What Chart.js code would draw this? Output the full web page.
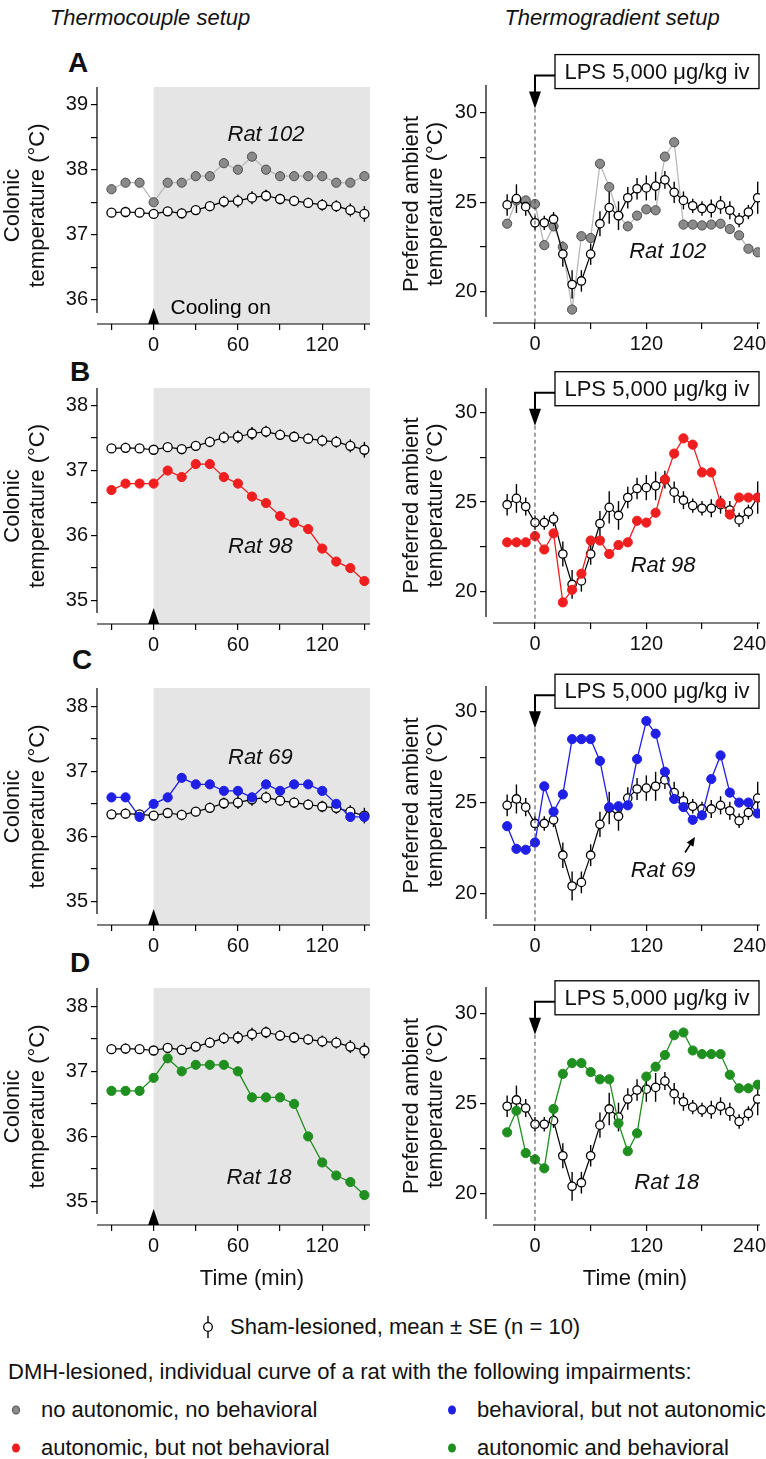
<!DOCTYPE html>
<html>
<head>
<meta charset="utf-8">
<title>Thermocouple and thermogradient setups</title>
<script src="https://cdn.jsdelivr.net/npm/chart.js"></script>
<style>
  html, body { margin: 0; padding: 0; background: #fff; }
  #fig { position: relative; width: 766px; height: 1459px; overflow: hidden;
         font-family: 'Liberation Sans', Arial, Helvetica, sans-serif; color: #111; }
  #fig canvas { position: absolute; }
  .t { position: absolute; white-space: nowrap; transform: translate(-50%, -50%); line-height: 1; }
  .l { position: absolute; white-space: nowrap; transform: translate(0, -50%); line-height: 1; }
  .hdr { font-size: 22px; font-style: italic; }
  .letter { font-size: 28px; font-weight: bold; }
  .lab { font-size: 22px; }
  .leg { font-size: 22px; }
  .dot { position: absolute; width: 8px; height: 9px; border-radius: 50%; transform: translate(-50%, -50%); box-sizing: border-box; }
</style>
</head>
<body>
<div id="fig">
  <div class="t hdr" style="left:150px; top:18px">Thermocouple setup</div>
  <div class="t hdr" style="left:612px; top:18px">Thermogradient setup</div>

  <div class="t letter" style="left:78px; top:63px">A</div>
  <div class="t letter" style="left:80px; top:372px">B</div>
  <div class="t letter" style="left:82px; top:660px">C</div>
  <div class="t letter" style="left:80px; top:963px">D</div>

  <canvas id="L0"></canvas><canvas id="L1"></canvas><canvas id="L2"></canvas><canvas id="L3"></canvas>
  <canvas id="R0"></canvas><canvas id="R1"></canvas><canvas id="R2"></canvas><canvas id="R3"></canvas>

  <div class="t lab" style="left:252px; top:1278px">Time (min)</div>
  <div class="t lab" style="left:635px; top:1278px">Time (min)</div>

  <svg style="position:absolute; left:198px; top:1315px" width="20" height="24">
    <line x1="10" y1="1" x2="10" y2="23" stroke="#000" stroke-width="1.4"/>
    <circle cx="10" cy="12" r="4.3" fill="#fff" stroke="#000" stroke-width="1.3"/>
  </svg>
  <div class="l leg" style="left:230px; top:1327px">Sham-lesioned, mean ± SE (n = 10)</div>
  <div class="l leg" style="left:8px; top:1372px">DMH-lesioned, individual curve of a rat with the following impairments:</div>

  <div class="dot" style="left:16px; top:1410px; background:#8a8a8a; border:1px solid #4d4d4d"></div>
  <div class="l leg" style="left:41px; top:1410px">no autonomic, no behavioral</div>
  <div class="dot" style="left:452px; top:1410px; background:#1f1fe6"></div>
  <div class="l leg" style="left:477px; top:1410px">behavioral, but not autonomic</div>
  <div class="dot" style="left:16px; top:1448px; background:#f01e1e"></div>
  <div class="l leg" style="left:41px; top:1448px">autonomic, but not behavioral</div>
  <div class="dot" style="left:452px; top:1448px; background:#1f8f1f"></div>
  <div class="l leg" style="left:477px; top:1448px">autonomic and behavioral</div>
</div>

<script>
// ---- data ----
const leftTimes = [-30, -20, -10, 0, 10, 20, 30, 40, 50, 60, 70, 80, 90, 100, 110, 120, 130, 140, 150];
const rightTimes = [-30, -20, -10, 0, 10, 20, 30, 40, 50, 60, 70, 80, 90, 100, 110, 120, 130, 140, 150,
                    160, 170, 180, 190, 200, 210, 220, 230, 240];

// sham-lesioned, mean and SE
const shamColonic = [37.34, 37.35, 37.34, 37.32, 37.36, 37.33, 37.38, 37.44, 37.51, 37.52, 37.57, 37.60,
                     37.55, 37.52, 37.49, 37.46, 37.44, 37.38, 37.32];
const shamColonicC = [36.34, 36.35, 36.34, 36.32, 36.36, 36.33, 36.38, 36.44, 36.51, 36.52, 36.57, 36.60,
                      36.55, 36.52, 36.49, 36.46, 36.44, 36.38, 36.32];
const shamColonicSE = [0.05, 0.08, 0.05, 0.07, 0.06, 0.08, 0.07, 0.08, 0.09, 0.10, 0.10, 0.09,
                       0.08, 0.08, 0.08, 0.09, 0.09, 0.10, 0.12];
const shamPreferred = [24.85, 25.2, 24.75, 23.85, 23.85, 24.05, 22.1, 20.4, 20.6, 22.1, 23.8, 24.7, 24.25, 25.25,
                       25.75, 25.8, 25.9, 26.25, 25.55, 25.1, 24.8, 24.65, 24.65, 24.85, 24.55, 24.0, 24.45, 25.25];
const shamPreferredSE = [0.6, 0.8, 0.5, 0.4, 0.4, 0.4, 0.7, 0.8, 0.6, 0.6, 0.7, 0.9, 0.8, 0.6,
                         0.6, 0.7, 0.8, 0.5, 0.6, 0.5, 0.4, 0.4, 0.5, 0.5, 0.5, 0.4, 0.4, 0.9];

// DMH-lesioned individual rats
const rat102Colonic = [37.7, 37.8, 37.8, 37.5, 37.8, 37.8, 37.9, 37.9, 38.1, 38.0, 38.2, 38.0, 37.9, 37.9,
                       37.9, 37.9, 37.8, 37.8, 37.9];
const rat98Colonic = [36.7, 36.8, 36.8, 36.8, 37.0, 36.9, 37.1, 37.1, 36.9, 36.8, 36.6, 36.5, 36.3, 36.2,
                      36.1, 35.8, 35.6, 35.5, 35.3];
const rat69Colonic = [36.6, 36.6, 36.3, 36.5, 36.6, 36.9, 36.8, 36.8, 36.7, 36.7, 36.6, 36.8, 36.7, 36.8,
                      36.8, 36.7, 36.5, 36.3, 36.3];
const rat18Colonic = [36.7, 36.7, 36.7, 36.9, 37.2, 37.0, 37.1, 37.1, 37.1, 37.0, 36.6, 36.6, 36.6, 36.5,
                      36.0, 35.6, 35.4, 35.3, 35.1];

const rat102Preferred = [23.8, 25.1, 25.1, 24.9, 22.6, 23.65, 22.5, 19.0, 23.1, 23.0, 27.15, 25.85, 24.25, 23.65,
                         24.25, 24.6, 24.55, 27.55, 28.35, 23.75, 23.75, 23.7, 23.75, 23.8, 23.5, 23.15, 22.4, 22.2];
const rat98Preferred = [22.75, 22.75, 22.75, 23.1, 22.35, 23.25, 19.4, 20.1, 21.0, 22.85, 22.85, 22.1, 22.6, 22.75,
                        23.95, 23.85, 24.4, 26.25, 27.7, 28.55, 28.2, 26.65, 26.65, 24.95, 24.3, 25.25, 25.25, 25.25];
const rat69Preferred = [23.7, 22.45, 22.4, 22.8, 25.9, 24.5, 25.45, 28.5, 28.5, 28.5, 27.3, 24.75, 24.8, 24.85,
                        27.4, 29.5, 28.8, 26.7, 25.2, 24.75, 24.05, 24.3, 26.3, 27.6, 25.55, 25.0, 25.0, 24.4];
const rat18Preferred = [23.4, 24.6, 22.25, 21.9, 21.4, 24.7, 26.65, 27.25, 27.25, 26.75, 26.35, 26.35, 23.9, 22.35,
                        23.35, 26.5, 27.05, 27.7, 28.8, 28.95, 27.95, 27.75, 27.75, 27.75, 26.6, 25.85, 25.85, 26.05];

const ratNames = ['Rat 102', 'Rat 98', 'Rat 69', 'Rat 18'];
const leftTickLabels = [0, 60, 120];
const rightTickLabels = [0, 120, 240];
const lpsText = 'LPS 5,000 \u03bcg/kg iv';

// ---- styles ----
const FONT = "'Liberation Sans', Arial, Helvetica, sans-serif";
Chart.defaults.font.family = FONT;
Chart.defaults.color = '#111';
Chart.defaults.animation = false;

const ratStyle = [
  { fill: '#8a8a8a', edge: '#4d4d4d', line: '#b8b8b8' },
  { fill: '#f01e1e', edge: '#f01e1e', line: '#f01e1e' },
  { fill: '#1f1fe6', edge: '#1f1fe6', line: '#1f1fe6' },
  { fill: '#1f8f1f', edge: '#1f8f1f', line: '#1f8f1f' }
];

function series(times, values) {
  return times.map((t, i) => ({ x: t, y: values[i] }));
}

// extra drawing: shaded cooling period, detached axis lines, SE bars, annotations, LPS arrows
const decor = {
  id: 'decor',
  beforeDraw(chart, args, o) {
    if (!o.shade) return;
    const { ctx, chartArea: a, scales: { x } } = chart;
    const x0 = x.getPixelForValue(0);
    ctx.save();
    ctx.fillStyle = '#e5e5e5';
    ctx.fillRect(x0, a.top, a.right - x0, a.bottom - a.top);
    ctx.restore();
  },
  beforeDatasetsDraw(chart, args, o) {
    const { ctx, chartArea: a, scales: { x, y } } = chart;
    ctx.save();
    ctx.strokeStyle = '#000';
    ctx.lineWidth = 1.2;
    ctx.beginPath();
    ctx.moveTo(a.left, a.top);
    ctx.lineTo(a.left, a.bottom - o.yGap);
    ctx.moveTo(a.left + o.xGap, a.bottom);
    ctx.lineTo(a.right, a.bottom);
    ctx.stroke();

    ctx.lineWidth = 1.4;
    o.times.forEach((t, i) => {
      const px = x.getPixelForValue(t);
      ctx.beginPath();
      ctx.moveTo(px, y.getPixelForValue(o.mean[i] - o.se[i]));
      ctx.lineTo(px, y.getPixelForValue(o.mean[i] + o.se[i]));
      ctx.stroke();
    });
    ctx.restore();
  },
  afterDatasetsDraw(chart, args, o) {
    const { ctx, chartArea: a, scales: { x, y } } = chart;
    ctx.save();
    ctx.fillStyle = '#111';
    ctx.font = 'italic 22px ' + FONT;
    ctx.textAlign = 'center';
    ctx.textBaseline = 'middle';
    ctx.fillText(o.label, x.getPixelForValue(o.labelAt[0]), y.getPixelForValue(o.labelAt[1]));

    const x0 = x.getPixelForValue(0);
    if (o.cooling) {
      ctx.fillStyle = '#000';
      ctx.beginPath();
      ctx.moveTo(x0 - 5.5, a.bottom);
      ctx.lineTo(x0 + 5.5, a.bottom);
      ctx.lineTo(x0, a.bottom - 16);
      ctx.closePath();
      ctx.fill();
      if (o.coolingText) {
        ctx.font = '21px ' + FONT;
        ctx.textAlign = 'left';
        ctx.fillText('Cooling on', x.getPixelForValue(12), y.getPixelForValue(35.88));
      }
    }

    if (o.lpsY !== undefined) {
      const cy = y.getPixelForValue(o.lpsY);
      const bh = 34, bl = x0 + 20, br = a.right - 1;
      const tip = cy + 37;
      ctx.strokeStyle = '#000';
      ctx.lineWidth = 1.3;
      ctx.fillStyle = '#fff';
      ctx.fillRect(bl, cy - bh / 2, br - bl, bh);
      ctx.strokeRect(bl, cy - bh / 2, br - bl, bh);
      ctx.fillStyle = '#111';
      ctx.font = '22px ' + FONT;
      ctx.textAlign = 'center';
      ctx.fillText(lpsText, (bl + br) / 2, cy + 1);
      // connector + arrow
      ctx.lineWidth = 2;
      ctx.beginPath();
      ctx.moveTo(bl, cy + 4);
      ctx.lineTo(x0, cy + 4);
      ctx.lineTo(x0, tip - 15);
      ctx.stroke();
      ctx.fillStyle = '#000';
      ctx.beginPath();
      ctx.moveTo(x0 - 6, tip - 17);
      ctx.lineTo(x0 + 6, tip - 17);
      ctx.lineTo(x0, tip);
      ctx.closePath();
      ctx.fill();
      // dashed injection line
      ctx.lineWidth = 1;
      ctx.strokeStyle = '#444';
      ctx.setLineDash([4, 3]);
      ctx.beginPath();
      ctx.moveTo(x0, tip);
      ctx.lineTo(x0, a.bottom);
      ctx.stroke();
      ctx.setLineDash([]);
    }

    if (o.pointer) {
      const [fx, fy, tx, ty] = o.pointer;
      const p1 = [x.getPixelForValue(fx), y.getPixelForValue(fy)];
      const p2 = [x.getPixelForValue(tx), y.getPixelForValue(ty)];
      const ang = Math.atan2(p2[1] - p1[1], p2[0] - p1[0]);
      ctx.strokeStyle = '#000';
      ctx.fillStyle = '#000';
      ctx.lineWidth = 1.6;
      ctx.beginPath();
      ctx.moveTo(p1[0], p1[1]);
      ctx.lineTo(p2[0] - 6 * Math.cos(ang), p2[1] - 6 * Math.sin(ang));
      ctx.stroke();
      ctx.beginPath();
      ctx.moveTo(p2[0], p2[1]);
      ctx.lineTo(p2[0] - 9 * Math.cos(ang) + 4 * Math.sin(ang), p2[1] - 9 * Math.sin(ang) - 4 * Math.cos(ang));
      ctx.lineTo(p2[0] - 9 * Math.cos(ang) - 4 * Math.sin(ang), p2[1] - 9 * Math.sin(ang) + 4 * Math.cos(ang));
      ctx.closePath();
      ctx.fill();
    }
    ctx.restore();
  }
};

function axisStyle() {
  return {
    grid: { drawOnChartArea: false, color: '#000', lineWidth: 1.2, tickLength: 6 },
    border: { display: false }
  };
}

function makePanel(id, p) {
  const cv = document.getElementById(id);
  const canvasTop = p.top - 50;
  const xh = 40;
  cv.width = p.canvasWidth;
  cv.height = Math.round(p.bottom + xh - canvasTop);
  cv.style.left = p.canvasLeft + 'px';
  cv.style.top = canvasTop + 'px';

  const rs = ratStyle[p.idx];
  const shamSet = {
    data: series(p.times, p.sham),
    borderColor: '#000', borderWidth: 1.2,
    pointBackgroundColor: '#fff', pointBorderColor: '#000', pointBorderWidth: 1.3,
    pointRadius: p.shamRadius, tension: 0,
    order: p.shamOnTop ? 0 : 1
  };
  const ratSet = {
    data: series(p.times, p.rat),
    borderColor: rs.line, borderWidth: 1.3,
    pointBackgroundColor: rs.fill, pointBorderColor: rs.edge, pointBorderWidth: 1,
    pointRadius: 4.6, tension: 0,
    order: p.shamOnTop ? 1 : 0
  };

  new Chart(cv, {
    type: 'line',
    data: { datasets: [shamSet, ratSet] },
    options: {
      responsive: false,
      layout: { padding: { top: 50, right: p.padRight, left: 0, bottom: 0 } },
      plugins: {
        legend: { display: false },
        tooltip: { enabled: false },
        decor: p.decor
      },
      scales: {
        x: Object.assign(axisStyle(), {
          type: 'linear', min: p.xMin, max: p.xMax,
          afterFit: (s) => { s.height = xh; s.paddingLeft = 0; s.paddingRight = 0; },
          ticks: {
            stepSize: p.xStep, includeBounds: false, autoSkip: false, maxRotation: 0, padding: 3,
            font: { size: 20 },
            callback: p.xLabel
          }
        }),
        y: Object.assign(axisStyle(), {
          type: 'linear', min: p.yMin, max: p.yMax,
          afterFit: (s) => { s.width = p.yWidth; s.paddingTop = 0; s.paddingBottom = 0; },
          title: {
            display: true, text: p.yTitle,
            font: { size: 22, lineHeight: 1.11 },
            padding: { top: p.titlePad, bottom: 0 }, color: '#111'
          },
          ticks: {
            stepSize: p.yStep, includeBounds: false, padding: 3,
            font: { size: 20 },
            callback: p.yLabel
          }
        })
      }
    },
    plugins: [decor]
  });
}

// ---- left column: colonic temperature ----
const leftRats = [rat102Colonic, rat98Colonic, rat69Colonic, rat18Colonic];
const leftShams = [shamColonic, shamColonic, shamColonicC, shamColonic];
const leftGeom = [
  { top: 86.7, bottom: 323.3, yMin: 35.63, yMax: 39.27 },
  { top: 388.3, bottom: 624.3, yMin: 34.64, yMax: 38.27 },
  { top: 688.3, bottom: 925, yMin: 34.64, yMax: 38.28 },
  { top: 988.3, bottom: 1225, yMin: 34.64, yMax: 38.28 }
];
const leftLabelAt = [[80, 38.53], [76, 35.83], [76, 37.21], [75, 35.37]];

leftGeom.forEach((g, i) => {
  makePanel('L' + i, {
    idx: i, top: g.top, bottom: g.bottom, yMin: g.yMin, yMax: g.yMax,
    canvasLeft: 0, canvasWidth: 380, padRight: 10, yWidth: 97, titlePad: 1,
    times: leftTimes, sham: leftShams[i], rat: leftRats[i], shamRadius: 4.5, shamOnTop: i === 0,
    xMin: -40.3, xMax: 154, xStep: 30,
    xLabel: (v) => leftTickLabels.includes(v) ? String(v) : '',
    yStep: 0.5,
    yLabel: (v) => Number.isInteger(v) ? String(v) : '',
    yTitle: ['Colonic', 'temperature (\u00b0C)'],
    decor: {
      shade: true, cooling: true, coolingText: i === 0, yGap: 11, xGap: 0,
      times: leftTimes, mean: leftShams[i], se: shamColonicSE,
      label: ratNames[i], labelAt: leftLabelAt[i]
    }
  });
});

// ---- right column: preferred ambient temperature ----
const rightRats = [rat102Preferred, rat98Preferred, rat69Preferred, rat18Preferred];
const rightGeom = [
  { top: 85, bottom: 322.7, yMax: 31.55, lpsY: 32.3 },
  { top: 388.3, bottom: 623.3, yMax: 31.36, lpsY: 31.32 },
  { top: 686, bottom: 925, yMax: 31.43, lpsY: 31.14 },
  { top: 986.7, bottom: 1224.3, yMax: 31.48, lpsY: 30.88 }
];
const rightLabelAt = [[143, 22.2], [138, 21.43], [138, 21.25], [142, 20.6]];

rightGeom.forEach((g, i) => {
  makePanel('R' + i, {
    idx: i, top: g.top, bottom: g.bottom, yMin: 18.25, yMax: g.yMax,
    canvasLeft: 380, canvasWidth: 386, padRight: 6, yWidth: 106, titlePad: 19.5,
    times: rightTimes, sham: shamPreferred, rat: rightRats[i], shamRadius: 4.2, shamOnTop: i === 0,
    xMin: -52.8, xMax: 242.5, xStep: 60,
    xLabel: (v) => rightTickLabels.includes(v) ? (v === 240 ? '240   ' : String(v)) : '',
    yStep: 2.5,
    yLabel: (v) => v % 5 === 0 ? String(v) : '',
    yTitle: ['Preferred ambient', 'temperature (\u00b0C)'],
    decor: {
      shade: false, cooling: false, yGap: 6, xGap: 7,
      times: rightTimes, mean: shamPreferred, se: shamPreferredSE,
      label: ratNames[i], labelAt: rightLabelAt[i], lpsY: g.lpsY,
      pointer: i === 2 ? [161.7, 22.25, 172.4, 23.1] : null
    }
  });
});
</script>
</body>
</html>
